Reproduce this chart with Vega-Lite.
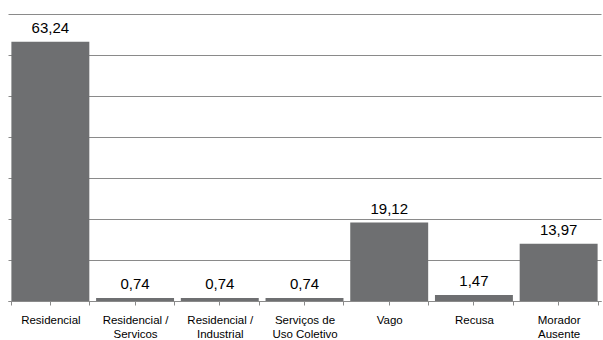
{
  "$schema": "https://vega.github.io/schema/vega-lite/v6.json",
  "autosize": "none",
  "width": 593,
  "height": 287,
  "padding": {"left": 8, "top": 14, "right": 2, "bottom": 39},
  "background": "white",
  "config": {
    "view": {"stroke": null},
    "font": "Liberation Sans",
    "locale": {"number": {"decimal": ",", "thousands": ".", "grouping": [3], "currency": ["R$", ""]}}
  },
  "data": {
    "values": [
      {"cat": "Residencial", "v": 63.24},
      {"cat": "Residencial /\nServicos", "v": 0.74},
      {"cat": "Residencial /\nIndustrial", "v": 0.74},
      {"cat": "Serviços de\nUso Coletivo", "v": 0.74},
      {"cat": "Vago", "v": 19.12},
      {"cat": "Recusa", "v": 1.47},
      {"cat": "Morador\nAusente", "v": 13.97}
    ]
  },
  "layer": [
    {
      "mark": {"type": "bar", "color": "#6e6f71"},
      "encoding": {
        "x": {
          "field": "cat", "type": "nominal", "sort": null,
          "scale": {"paddingInner": 0.08, "paddingOuter": 0.04},
          "axis": {
            "orient": "bottom",
            "title": null, "labelAngle": 0, "tickBand": "extent",
            "tickColor": "#8a8a8a", "tickSize": 4, "domainColor": "#8a8a8a",
            "labelFontSize": 11.5, "labelColor": "#000000", "labelPadding": 9,
            "labelExpr": "split(datum.label, '\\n')", "labelLineHeight": 14
          }
        },
        "y": {
          "field": "v", "type": "quantitative",
          "scale": {"domain": [0, 70]},
          "axis": {
            "title": null, "labels": false, "ticks": false, "domain": false,
            "values": [0, 10, 20, 30, 40, 50, 60, 70],
            "gridColor": "#8a8a8a", "gridOpacity": 1, "gridWidth": 1
          }
        }
      }
    },
    {
      "mark": {"type": "text", "baseline": "bottom", "dy": -6, "fontSize": 15, "color": "#000000"},
      "encoding": {
        "x": {"field": "cat", "type": "nominal", "sort": null, "axis": null},
        "y": {"field": "v", "type": "quantitative"},
        "text": {"field": "v", "type": "quantitative", "format": ".2f"}
      }
    },
    {
      "mark": {"type": "rule", "opacity": 0},
      "encoding": {
        "x": {
          "field": "cat", "type": "nominal", "sort": null,
          "axis": {
            "orient": "bottom",
            "title": null, "labels": false, "domain": false, "grid": false, "tickBand": "center",
            "tickColor": "#8a8a8a", "tickSize": 4
          }
        }
      }
    }
  ],
  "resolve": {"axis": {"x": "independent"}}
}
